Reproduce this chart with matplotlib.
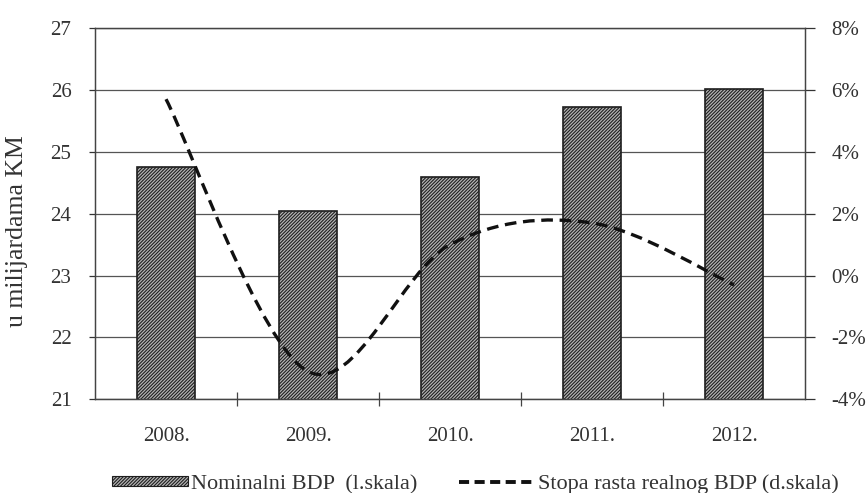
import numpy as np
import matplotlib
matplotlib.use('Agg')
import matplotlib.pyplot as plt
from matplotlib.path import Path
from matplotlib.patches import PathPatch, Patch
from matplotlib.lines import Line2D
import matplotlib.ticker as mticker

# Podaci
godine = ['2008.', '2009.', '2010.', '2011.', '2012.']
nominalni_bdp = [24.75, 24.05, 24.6, 25.72, 26.02]      # u milijardama KM (l.skala)
stopa_rasta = [5.7, -3.1, 1.0, 1.7, -0.3]               # % (d.skala)

plt.rcParams['font.family'] = ['Liberation Serif', 'DejaVu Serif']
plt.rcParams['hatch.linewidth'] = 0.8
plt.rcParams['hatch.color'] = '#1e1e1e'

fig = plt.figure(figsize=(8.67, 4.93), dpi=100, facecolor='white')
ax = fig.add_axes([0.1096, 0.190, 0.8189, 0.7532])

x = np.arange(len(godine))

# Stubci - nominalni BDP
ax.bar(x, nominalni_bdp, width=0.41, bottom=0, color='#b4b4b4', edgecolor='#1e1e1e',
       hatch='//////////', linewidth=1.2, zorder=2)
ax.set_ylim(21, 27)
ax.set_xlim(-0.5, len(godine) - 0.5)
ax.set_yticks(np.arange(21, 28, 1))
ax.yaxis.grid(True, color='#555555', linewidth=0.9)
ax.set_axisbelow(True)
ax.set_ylabel('u milijardama KM', fontsize=18.5, color='#333333')
ax.yaxis.set_label_coords(-0.094, 0.453)
ax.tick_params(axis='y', direction='out', length=4, width=0.9, pad=13, labelsize=15,
               colors='#333333')

# x osa: oznake godina, crtice izmedju kategorija
ax.set_xticks(x)
ax.set_xticklabels(godine)
ax.tick_params(axis='x', length=0, pad=20, labelsize=15, colors='#333333')
ax.set_xticks(np.arange(0.5, len(godine) - 1, 1), minor=True)
ax.tick_params(axis='x', which='minor', direction='inout', length=10, width=0.9,
               color='#444444')
for s in ax.spines.values():
    s.set_color('#444444')
    s.set_linewidth(0.9)

# Desna skala - stopa rasta
ax2 = ax.twinx()
ax2.set_ylim(-4, 8)
ax2.set_yticks(np.arange(-4, 9, 2))
ax2.yaxis.set_major_formatter(mticker.FuncFormatter(lambda v, p: '%d%%' % v))
ax2.tick_params(axis='y', direction='out', length=7, width=0.9, pad=12, labelsize=15,
                colors='#333333')
for s in ax2.spines.values():
    s.set_color('#444444')
    s.set_linewidth(0.9)

# Zaobljena linija (Bezier kao u Excelu)
pts = np.column_stack([x, stopa_rasta]).astype(float)
n = len(pts)
verts = [tuple(pts[0])]
codes = [Path.MOVETO]
for i in range(n - 1):
    p_prev = pts[max(i - 1, 0)]
    p_next2 = pts[min(i + 2, n - 1)]
    c1 = pts[i] + (pts[i + 1] - p_prev) / 6.0
    c2 = pts[i + 1] - (p_next2 - pts[i]) / 6.0
    verts += [tuple(c1), tuple(c2), tuple(pts[i + 1])]
    codes += [Path.CURVE4] * 3
linija = PathPatch(Path(verts, codes), fill=False, edgecolor='#111111', linewidth=2.4,
                   linestyle=(0, (3.5, 2.0)), zorder=3, capstyle='butt')
ax2.add_patch(linija)

# Legenda
h1 = Patch(facecolor='#b4b4b4', edgecolor='#1e1e1e', hatch='//////////', linewidth=0.8)
h2 = Line2D([0], [0], color='#111111', linewidth=2.8, linestyle=(0, (2.6, 1.4)))
fig.legend([h1, h2], ['Nominalni BDP  (l.skala)', 'Stopa rasta realnog BDP (d.skala)'],
           loc='center', bbox_to_anchor=(0.5485, 0.018), ncol=2, frameon=False,
           fontsize=16, handlelength=3.4, handleheight=0.37, handletextpad=0.15,
           columnspacing=1.9, labelcolor='#333333')

fig.savefig('out.png', dpi=100, facecolor='white')
